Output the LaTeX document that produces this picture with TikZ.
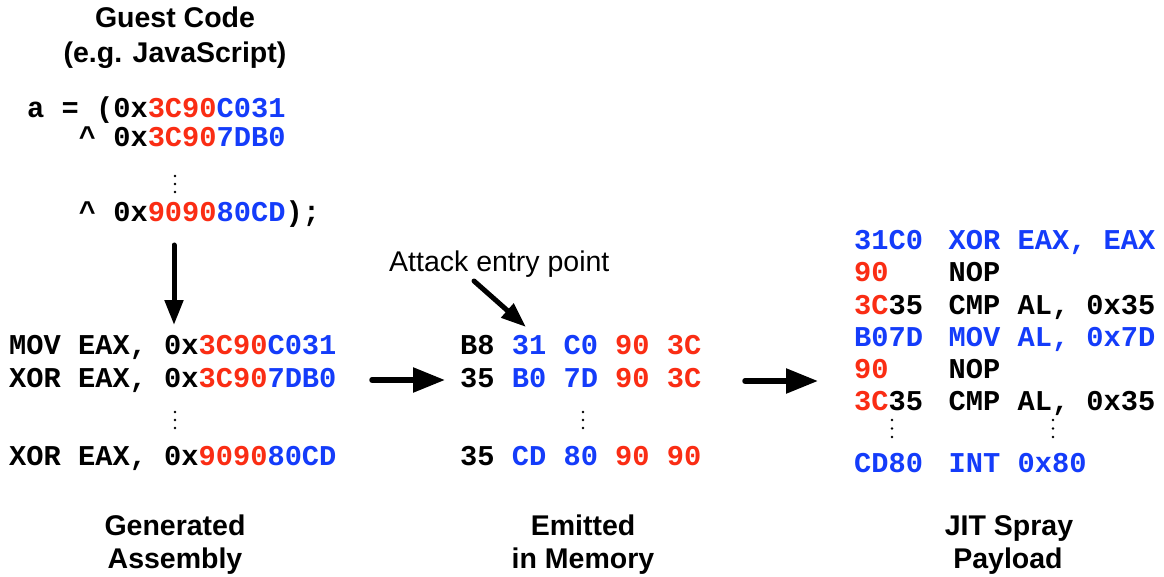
\documentclass[tikz,border=0pt]{standalone}
\usepackage{fontspec}
\setmainfont{Liberation Sans}
\newfontfamily\codefont{Liberation Mono}[WordSpace={1,0,0}]
\usetikzlibrary{arrows.meta}

\definecolor{hexred}{RGB}{250,45,20}
\definecolor{hexblue}{RGB}{20,60,250}
\newcommand\redpart[1]{\textcolor{hexred}{#1}}
\newcommand\bluepart[1]{\textcolor{hexblue}{#1}}
% width of one monospace character cell
\def\cw{17.22}

\tikzset{
  code/.style={anchor=base west, inner sep=0pt,
    font={\codefont\bfseries\frenchspacing\fontsize{28.7}{32}\selectfont}},
  title/.style={anchor=base, inner sep=0pt,
    font={\bfseries\fontsize{28.5}{32}\selectfont}},
  note/.style={anchor=base west, inner sep=0pt,
    font={\fontsize{28.5}{32}\selectfont}},
  flow/.style={line width=5.5pt, line cap=round,
    -{Triangle[length=32pt,width=24pt]}},
  pointer/.style={line width=5pt, line cap=round,
    -{Triangle[length=25pt,width=18pt]}},
  dot/.style={circle, fill=black, inner sep=0pt, minimum size=2.8pt},
}

\begin{document}
\begin{tikzpicture}[x=1pt, y=-1pt]
\useasboundingbox[fill=white] (0,0) rectangle (1164,577);

% --- guest code ---
\node[title] (guest1) at (175,28) {Guest Code};
\node[title] (guest2) at (175,63) {(e.g. JavaScript)};
\node[code] (js1) at (27,118) {a = (0x\redpart{3C90}\bluepart{C031}};
\node[code] (js2) at (27+3*\cw,147) {\textasciicircum{} 0x\redpart{3C90}\bluepart{7DB0}};
\foreach \d in {0,1,2} \node[dot] (jsdot\d) at (175,176+8*\d) {};
\node[code] (js4) at (27+3*\cw,222) {\textasciicircum{} 0x\redpart{9090}\bluepart{80CD});};

% --- generated assembly ---
\node[code] (asm1) at (9,354) {MOV EAX, 0x\redpart{3C90}\bluepart{C031}};
\node[code] (asm2) at (9,387) {XOR EAX, 0x\redpart{3C90}\bluepart{7DB0}};
\foreach \d in {0,1,2} \node[dot] (asmdot\d) at (175,412+8*\d) {};
\node[code] (asm4) at (9,465) {XOR EAX, 0x\redpart{9090}\bluepart{80CD}};
\node[title] (gen1) at (175,535) {Generated};
\node[title] (gen2) at (175,568) {Assembly};

% --- bytes in memory ---
\node[note] (entry) at (389,272) {Attack entry point};
\node[code] (mem1) at (460,354) {B8 \bluepart{31 C0} \redpart{90 3C}};
\node[code] (mem2) at (460,387) {35 \bluepart{B0 7D} \redpart{90 3C}};
\foreach \d in {0,1,2} \node[dot] (memdot\d) at (583,412+8*\d) {};
\node[code] (mem4) at (460,465) {35 \bluepart{CD 80} \redpart{90 90}};
\node[title] (emit1) at (583,535) {Emitted};
\node[title] (emit2) at (583,568) {in Memory};

% --- decoded payload ---
\node[code] (op1)  at (854,250)   {\bluepart{31C0}};
\node[code] (ins1) at (948.5,250) {\bluepart{XOR EAX, EAX}};
\node[code] (op2)  at (854,282)   {\redpart{90}};
\node[code] (ins2) at (948.5,282) {NOP};
\node[code] (op3)  at (854,314)   {\redpart{3C}35};
\node[code] (ins3) at (948.5,314) {CMP AL, 0x35};
\node[code] (op4)  at (854,346)   {\bluepart{B07D}};
\node[code] (ins4) at (948.5,346) {\bluepart{MOV AL, 0x7D}};
\node[code] (op5)  at (854,378)   {\redpart{90}};
\node[code] (ins5) at (948.5,378) {NOP};
\node[code] (op6)  at (854,410)   {\redpart{3C}35};
\node[code] (ins6) at (948.5,410) {CMP AL, 0x35};
\foreach \d in {0,1,2} {
  \node[dot] (opdot\d)  at (892,420+8.5*\d) {};
  \node[dot] (insdot\d) at (1053,420+8.5*\d) {};
}
\node[code] (op7)  at (854,472)   {\bluepart{CD80}};
\node[code] (ins7) at (948.5,472) {\bluepart{INT 0x80}};
\node[title] (jit1) at (1009,535) {JIT Spray};
\node[title] (jit2) at (1008,568) {Payload};

% --- arrows ---
\coordinate (compile-from) at (174,245);
\coordinate (compile-to)   at (174,325);
\coordinate (emit-from)    at (372,380);
\coordinate (emit-to)      at (445,380);
\coordinate (decode-from)  at (745,381);
\coordinate (decode-to)    at (818,381);
\coordinate (entry-from)   at (474,281);
\coordinate (entry-to)     at (526,327);
\draw[pointer] (compile-from) -- (compile-to);
\draw[flow] (emit-from) -- (emit-to);
\draw[flow] (decode-from) -- (decode-to);
\draw[pointer] (entry-from) -- (entry-to);
\end{tikzpicture}
\end{document}
